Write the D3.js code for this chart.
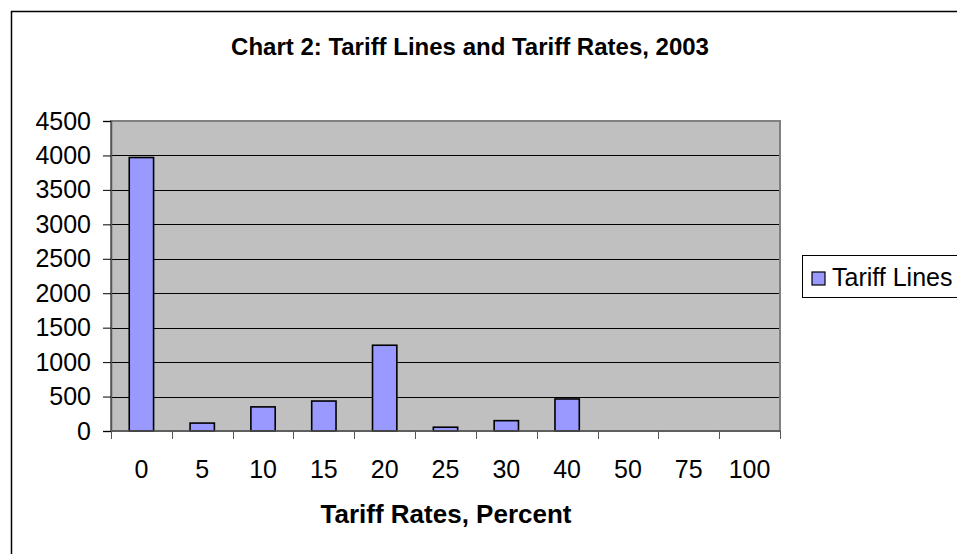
<!DOCTYPE html>
<html>
<head>
<meta charset="utf-8">
<script src="https://cdn.jsdelivr.net/npm/d3@7"></script>
<style>
body{margin:0;background:#fff;}
svg text{font-family:"Liberation Sans",Arial,sans-serif;}
</style>
</head>
<body>
<svg id="chart" width="957" height="554"></svg>
<script>
// 数据
var rates=["0","5","10","15","20","25","30","40","50","75","100"];
var lines=[3970,115,350,435,1245,55,150,465,0,0,0];
var yTicks=[0,500,1000,1500,2000,2500,3000,3500,4000,4500];

var svg=d3.select("#chart");
var pLeft=111,pRight=780,pTop=121,pBottom=431;

var x=d3.scaleBand().domain(rates).range([pLeft,pRight]).paddingInner(0.6).paddingOuter(0.3);
var y=d3.scaleLinear().domain([0,4500]).range([pBottom,pTop]);

// 外框
svg.append("rect").attr("x",11.5).attr("y",11.5).attr("width",960).attr("height",560)
    .attr("fill","#fff").attr("stroke","#000").attr("stroke-width",1.5);

// 标题
svg.append("text").attr("x",470).attr("y",55).attr("text-anchor","middle")
    .attr("font-size",24).attr("font-weight","bold").text("Chart 2: Tariff Lines and Tariff Rates, 2003");

// 绘图区
svg.append("rect").attr("x",pLeft).attr("y",pTop).attr("width",pRight-pLeft).attr("height",pBottom-pTop)
    .attr("fill","#c0c0c0");

// 网格线
svg.append("g").selectAll("line").data(yTicks.filter(function(d){return d>0&&d<4500;}))
    .enter().append("line")
    .attr("x1",pLeft).attr("x2",pRight)
    .attr("y1",function(d){return Math.round(y(d))+0.5;})
    .attr("y2",function(d){return Math.round(y(d))+0.5;})
    .attr("stroke","#000").attr("stroke-width",1.2);

svg.append("rect").attr("x",pLeft).attr("y",pTop).attr("width",pRight-pLeft).attr("height",pBottom-pTop)
    .attr("fill","none").attr("stroke","#808080").attr("stroke-width",2);

// 柱子
svg.append("g").selectAll("rect").data(lines).enter().append("rect")
    .attr("x",function(d,i){return x(rates[i]);})
    .attr("y",function(d){return y(d);})
    .attr("width",x.bandwidth())
    .attr("height",function(d){return pBottom-y(d);})
    .attr("fill","#9999ff")
    .attr("stroke","#000").attr("stroke-width",function(d){return d>0?1.6:0;});

// y轴
var yAxis=d3.axisLeft(y).tickValues(yTicks).tickFormat(d3.format("d")).tickSize(8).tickPadding(12);
var gy=svg.append("g").attr("transform","translate("+pLeft+",0)").call(yAxis);
gy.select(".domain").attr("stroke","#555").attr("stroke-width",1.5);
gy.selectAll(".tick line").attr("stroke","#000");
gy.selectAll("text").attr("font-size",25).attr("fill","#000")
    .attr("font-family","Liberation Sans, Arial, sans-serif");

// x轴
var xPos=d3.scaleLinear().domain([0,rates.length]).range([pLeft,pRight]);
var gx=svg.append("g").attr("transform","translate(0,"+pBottom+")");
gx.append("line").attr("x1",pLeft).attr("x2",pRight).attr("y1",0).attr("y2",0)
    .attr("stroke","#555").attr("stroke-width",1.5);
gx.selectAll(".xt").data(d3.range(rates.length+1)).enter().append("line")
    .attr("x1",function(d){return Math.round(xPos(d))+0.5;})
    .attr("x2",function(d){return Math.round(xPos(d))+0.5;})
    .attr("y1",0).attr("y2",8).attr("stroke","#555");
gx.selectAll("text").data(rates).enter().append("text")
    .attr("x",function(d){return x(d)+x.bandwidth()/2;})
    .attr("y",47).attr("text-anchor","middle").attr("font-size",25).text(function(d){return d;});

// x轴标题
svg.append("text").attr("x",446).attr("y",523).attr("text-anchor","middle")
    .attr("font-size",26).attr("font-weight","bold").text("Tariff Rates, Percent");

// 图例
svg.append("rect").attr("x",802.5).attr("y",255.5).attr("width",170).attr("height",42)
    .attr("fill","#fff").attr("stroke","#000").attr("stroke-width",1);
svg.append("rect").attr("x",812).attr("y",272).attr("width",13).attr("height",13)
    .attr("fill","#9999ff").attr("stroke","#000").attr("stroke-width",1.2);
svg.append("text").attr("x",832).attr("y",286).attr("font-size",25).text("Tariff Lines");
</script>
</body>
</html>
